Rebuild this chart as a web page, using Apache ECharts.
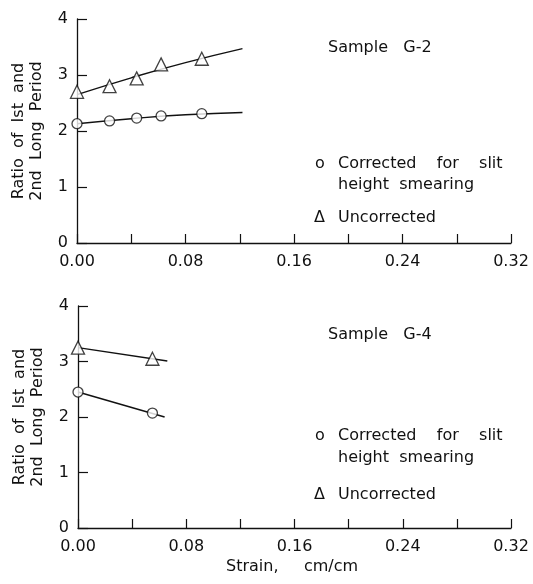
<!DOCTYPE html>
<html>
<head>
<meta charset="utf-8">
<script src="https://cdn.jsdelivr.net/npm/echarts@6/dist/echarts.min.js"></script>
<style>
  html, body { margin: 0; padding: 0; background: #fff; }
  #chart { width: 533px; height: 584px; }
</style>
</head>
<body>
<div id="chart"></div>
<script>
  // measured points, sample G-2
  var strainG2 = [0, 0.024, 0.044, 0.062, 0.092]
  var correctedG2 = [2.13, 2.18, 2.23, 2.27, 2.31]
  var uncorrectedG2 = [2.70, 2.80, 2.94, 3.19, 3.29]
  // drawn curves, sample G-2
  var fitStrainG2 = [0, 0.04, 0.08, 0.122]
  var fitCorrectedG2 = [2.13, 2.22, 2.29, 2.33]
  var fitUncorrectedG2 = [2.65, 2.95, 3.22, 3.47]

  // measured points, sample G-4
  var strainG4 = [0, 0.055]
  var correctedG4 = [2.45, 2.07]
  var uncorrectedG4 = [3.25, 3.05]
  // drawn lines, sample G-4
  var fitCorrStrainG4 = [0, 0.064]
  var fitCorrectedG4 = [2.45, 2.00]
  var fitUncStrainG4 = [0, 0.066]
  var fitUncorrectedG4 = [3.25, 3.01]

  var xTicks = ['0.00', '0.08', '0.16', '0.24', '0.32']
  var yTicks = ['0', '1', '2', '3', '4']

  var font = 'DejaVu Sans'
  var ink = '#111'

  function pairs(xs, ys) {
    var out = []
    for (var i = 0; i < xs.length; i++) out.push([xs[i], ys[i]])
    return out
  }

  function xAxisFor(idx) {
    return {
      type: 'value', gridIndex: idx, min: 0, max: 0.32, interval: 0.04,
      axisLine: { lineStyle: { color: ink, width: 1.3 } },
      axisTick: { inside: true, length: 9, lineStyle: { color: ink, width: 1.2 } },
      splitLine: { show: false },
      axisLabel: {
        color: ink, fontFamily: font, fontSize: 16, margin: 11,
        formatter: function(v) {
          var k = Math.round(v / 0.04)
          return k % 2 === 0 ? xTicks[k / 2] : ''
        }
      }
    }
  }

  function yAxisFor(idx) {
    return {
      type: 'value', gridIndex: idx, min: 0, max: 4, interval: 1,
      name: 'Ratio  of  Ist  and\n2nd  Long  Period',
      nameLocation: 'middle', nameGap: 31,
      nameTextStyle: { color: ink, fontFamily: font, fontSize: 16, lineHeight: 18 },
      axisLine: { lineStyle: { color: ink, width: 1.3 } },
      axisTick: { inside: true, length: 10, lineStyle: { color: ink, width: 1.2 } },
      splitLine: { show: false },
      axisLabel: {
        color: ink, fontFamily: font, fontSize: 16, margin: 9,
        formatter: function(v) { return yTicks[Math.round(v)] }
      }
    }
  }

  function curve(idx, xs, ys) {
    return {
      type: 'line', xAxisIndex: idx, yAxisIndex: idx, smooth: true,
      showSymbol: false, silent: true, z: 2,
      lineStyle: { color: ink, width: 1.4 },
      data: pairs(xs, ys)
    }
  }

  function marks(idx, xs, ys, sym, size) {
    return {
      type: 'scatter', xAxisIndex: idx, yAxisIndex: idx, symbol: sym,
      symbolSize: size, z: 5,
      itemStyle: { color: '#fff', borderColor: ink, borderWidth: 1.3 },
      data: pairs(xs, ys)
    }
  }

  // y is the text's centre line
  function txt(x, y, s) {
    return {
      type: 'text', left: x, top: y - 8,
      style: { text: s, fill: ink, font: '16px "' + font + '"' }
    }
  }

  var myChart = echarts.init(document.getElementById('chart'))
  var option = {
    backgroundColor: '#fff',
    animation: false,
    grid: [
      { left: 77, right: 22, top: 19, height: 224 },
      { left: 78, right: 22, top: 306, height: 222 }
    ],
    xAxis: [xAxisFor(0), xAxisFor(1)],
    yAxis: [yAxisFor(0), yAxisFor(1)],
    series: [
      curve(0, fitStrainG2, fitCorrectedG2),
      curve(0, fitStrainG2, fitUncorrectedG2),
      marks(0, strainG2, correctedG2, 'circle', 10),
      marks(0, strainG2, uncorrectedG2, 'triangle', 13),
      curve(1, fitCorrStrainG4, fitCorrectedG4),
      curve(1, fitUncStrainG4, fitUncorrectedG4),
      marks(1, strainG4, correctedG4, 'circle', 10),
      marks(1, strainG4, uncorrectedG4, 'triangle', 13)
    ],
    graphic: [
      txt(328, 48, 'Sample   G-2'),
      txt(315, 164, 'o'),
      txt(338, 164, 'Corrected    for    slit'),
      txt(338, 185, 'height  smearing'),
      txt(314, 218, 'Δ'),
      txt(338, 218, 'Uncorrected'),
      txt(328, 335, 'Sample   G-4'),
      txt(315, 436, 'o'),
      txt(338, 436, 'Corrected    for    slit'),
      txt(338, 458, 'height  smearing'),
      txt(314, 495, 'Δ'),
      txt(338, 495, 'Uncorrected'),
      txt(226, 567, 'Strain,     cm/cm')
    ]
  }
  myChart.setOption(option)
</script>
</body>
</html>
